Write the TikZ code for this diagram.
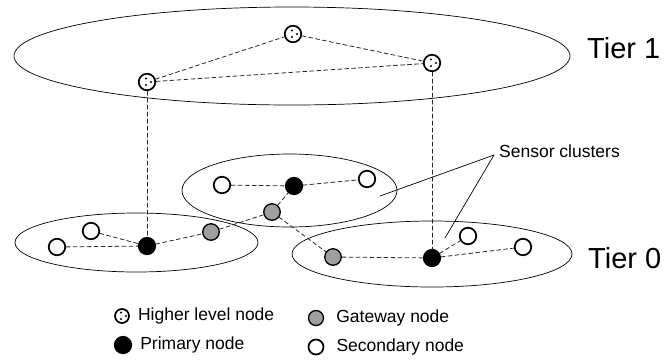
\documentclass[tikz,border=0pt]{standalone}
\usepackage{fontspec}
\setmainfont{Liberation Sans}
\usetikzlibrary{positioning}

\begin{document}
\begin{tikzpicture}[line cap=round,line join=round,x=1pt,y=-1pt,
  cluster/.style={line width=0.7pt},
  link/.style={dash pattern=on 4pt off 3pt,line width=0.8pt,black!85},
  secnode/.style={circle,draw,line width=1.7pt,fill=white,minimum size=16.5pt,inner sep=0pt},
  primnode/.style={secnode,fill=black},
  gatenode/.style={secnode,line width=1.3pt,fill=gray!75},
  highnode/.style={secnode,path picture={
    \fill [black] ([shift={(-1pt,3.5pt)}]path picture bounding box.center) circle (1.1pt);
    \fill [black] ([shift={(-1pt,-3pt)}]path picture bounding box.center) circle (1.1pt);
    \fill [black] ([shift={(4pt,0pt)}]path picture bounding box.center) circle (1.1pt);}},
  tier/.style={font=\fontsize{29}{29}\selectfont,anchor=base west,inner sep=0pt},
  legend/.style={font=\fontsize{17.5}{18}\selectfont,anchor=west,inner sep=0pt}]
\useasboundingbox (0,0) rectangle (668,360);
% cluster outlines
\draw [cluster] (292,56) ellipse (278 and 49);
\draw [cluster] (289.5,190.5) ellipse (107.5 and 36.5);
\draw [cluster] (136.5,242.5) ellipse (121.5 and 29.5);
\draw [cluster] (432,254) ellipse (140 and 33);
% tier 1
\node [highnode] (h1) at (147,82) {};
\node [highnode] (h2) at (293,34) {};
\node [highnode] (h3) at (432,63) {};
% tier 0, left cluster
\node [secnode] (s3) at (57,247) {};
\node [secnode] (s4) at (91,231) {};
\node [primnode] (p1) at (147,246) {};
\node [gatenode] (g1) at (211,232) {};
% tier 0, middle cluster
\node [secnode] (s1) at (222,185) {};
\node [primnode] (p2) at (294,186) {};
\node [secnode] (s2) at (367,179) {};
\node [gatenode] (g2) at (272,212) {};
% tier 0, right cluster
\node [gatenode] (g3) at (333,257) {};
\node [primnode] (p3) at (432,258) {};
\node [secnode] (s5) at (468,236) {};
\node [secnode] (s6) at (523,247) {};
% links
\draw [link] (h1) -- (h2);
\draw [link] (h2) -- (h3);
\draw [link] (h1) -- (h3);
\draw [link] (h1) -- (p1);
\draw [link] (h3) -- (p3);
\draw [link] (s3) -- (p1);
\draw [link] (s4) -- (p1);
\draw [link] (p1) -- (g1);
\draw [link] (g1) -- (g2);
\draw [link] (g2) -- (p2);
\draw [link] (s1) -- (p2);
\draw [link] (p2) -- (s2);
\draw [link] (g2) -- (g3);
\draw [link] (g3) -- (p3);
\draw [link] (p3) -- (s5);
\draw [link] (p3) -- (s6);
% labels
\node [tier] (t1) at (587,58) {Tier 1};
\node [tier] (t0) at (588,268) {Tier 0};
\node [font=\fontsize{17.5}{18}\selectfont,anchor=base west,inner sep=0pt] (sc) at (499,157) {Sensor clusters};
\coordinate (lead) at (494,155);
\coordinate (mc) at (380,196);
\coordinate (rc) at (445,238);
\draw [line width=0.7pt] (lead) -- (mc);
\draw [line width=0.7pt] (lead) -- (rc);
% legend
\node [highnode,minimum size=14pt] (kh) at (122,316) {};
\node [legend,right=8pt of kh] {Higher level node};
\node [primnode] (kp) at (123,345) {};
\node [legend,right=8pt of kp] {Primary node};
\node [gatenode,minimum size=15pt] (kg) at (316,318) {};
\node [legend,right=12pt of kg] {Gateway node};
\node [secnode,minimum size=15pt] (ks) at (316,347) {};
\node [legend,right=12pt of ks] {Secondary node};
\end{tikzpicture}
\end{document}
